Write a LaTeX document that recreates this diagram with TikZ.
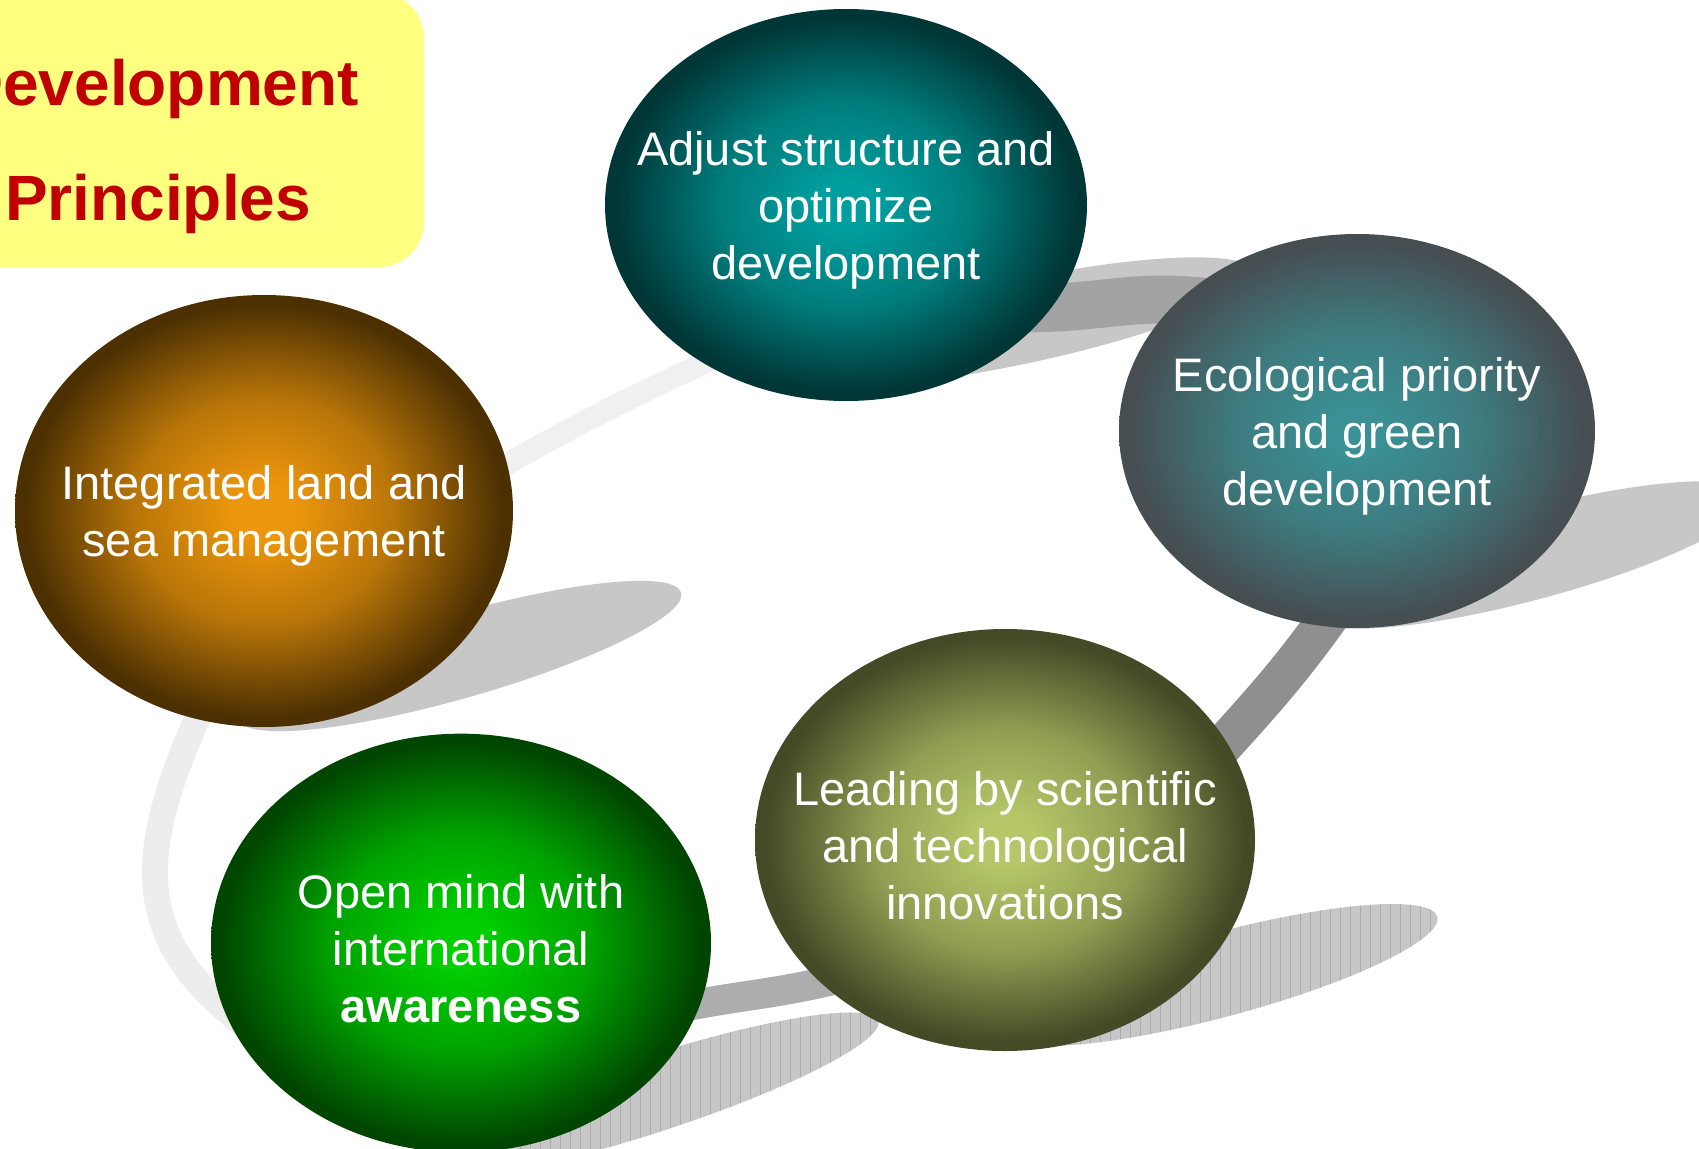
\documentclass[tikz,border=0pt]{standalone}
\usepackage{fontspec}
\setmainfont{Liberation Sans}
\usepackage{tikz}
\usetikzlibrary{shapes.geometric,backgrounds,patterns.meta}

\definecolor{tealin}{RGB}{0,158,158}
\definecolor{tealout}{RGB}{0,54,54}
\definecolor{slatein}{RGB}{58,144,148}
\definecolor{slateout}{RGB}{70,78,82}
\definecolor{amberin}{RGB}{236,150,12}
\definecolor{amberout}{RGB}{76,48,2}
\definecolor{olivein}{RGB}{182,198,104}
\definecolor{oliveout}{RGB}{68,74,38}
\definecolor{greenin}{RGB}{0,206,0}
\definecolor{greenout}{RGB}{0,70,0}
\definecolor{titlered}{RGB}{192,0,0}
\definecolor{panelyellow}{RGB}{255,255,128}

\newcommand{\glowshade}[3]{\pgfdeclareradialshading{#1}{\pgfpointorigin}{color(0bp)=(#2); color(3bp)=(#2); color(13bp)=(#2!68!#3); color(24bp)=(#3); color(50bp)=(#3)}}
\glowshade{tealglow}{tealin}{tealout}
\glowshade{slateglow}{slatein}{slateout}
\glowshade{amberglow}{amberin}{amberout}
\glowshade{oliveglow}{olivein}{oliveout}
\glowshade{greenglow}{greenin}{greenout}

\tikzset{
  bubble/.style={ellipse, inner sep=0pt, shade, shading=#1},
  bubbletext/.style={align=center, inner sep=0pt, yshift=-4pt, text=white, font=\fontsize{35.25}{42.75}\selectfont},
  shadowfill/.style={fill=black, fill opacity=0.22},
  shadowlines/.style={shadowfill, postaction={fill opacity=1, pattern={Lines[angle=90,distance=7.5pt,line width=0.5pt]}, pattern color=black!33}},
  ringpart/.style={draw=black, shorten <=-30pt, shorten >=-30pt}
}

\begin{document}
\begin{tikzpicture}[x=0.75pt,y=0.75pt,yscale=-1,xscale=1]
\useasboundingbox (0,0) rectangle (1699,1149);

% Title panel
\node [fill=panelyellow, rounded corners=33.75pt, minimum width=399pt, minimum height=205.5pt, inner sep=0pt] (panel) at (158,130) {};
% Text Node
\node [anchor=north, inner sep=0pt, align=center, text=titlered, font=\bfseries\fontsize{48}{86.25}\selectfont] (title) at (158,59) {Development\\Principles};

% Ellipse
\node [bubble=tealglow, minimum width=361.5pt, minimum height=294pt] (adjust) at (846,205) {};
% Ellipse
\node [bubble=slateglow, minimum width=357pt, minimum height=295.5pt] (eco) at (1357,431) {};
% Ellipse
\node [bubble=amberglow, minimum width=373.5pt, minimum height=324pt] (land) at (264,511) {};
% Ellipse
\node [bubble=oliveglow, minimum width=375pt, minimum height=316.5pt] (leading) at (1005,840) {};
% Ellipse
\node [bubble=greenglow, minimum width=375pt, minimum height=314pt] (open) at (461,943) {};

% Text Node
\node [bubbletext] (adjust-t) at (adjust) {Adjust structure and\\optimize\\development};
% Text Node
\node [bubbletext] (eco-t) at (eco) {Ecological priority\\and green\\development};
% Text Node
\node [bubbletext] (land-t) at (land) {Integrated land and\\sea management};
% Text Node
\node [bubbletext] (leading-t) at (leading) {Leading by scientific\\and technological\\innovations};
% Text Node
\node [bubbletext] (open-t) at (open) {Open mind with\\international\\\textbf{awareness}};

\begin{scope}[on background layer]
% Shadows
\path [shadowfill, rotate around={-12:(1020,322)}] (1020,322) ellipse [x radius=240, y radius=42];
\path [shadowfill, rotate around={-15:(1530,555)}] (1530,555) ellipse [x radius=230, y radius=45];
\path [shadowfill, rotate around={-16:(460,656)}] (460,656) ellipse [x radius=230, y radius=42];
\path [shadowlines, rotate around={-15:(1220,975)}] (1220,975) ellipse [x radius=225, y radius=42];
\path [shadowlines, rotate around={-18:(650,1095)}] (650,1095) ellipse [x radius=240, y radius=38];
% Ring
\draw [ringpart, line width=16.5pt, draw opacity=0.06] (land.11) to [out=-30, in=155] (adjust.228);
\draw [ringpart, line width=36pt, draw opacity=0.18] (adjust.-27) to [out=2, in=188] (eco.143);
\draw [ringpart, line width=30pt, draw opacity=0.44] (eco.-100) to [out=125, in=-48] (leading.24);
\draw [ringpart, line width=22.5pt, draw opacity=0.32] (leading.218) to [out=165, in=-12] (open.-14);
\draw [ringpart, line width=19.5pt, draw opacity=0.07] (open.196) to [out=-145, in=115, looseness=1.15] (land.252);
\end{scope}

\end{tikzpicture}
\end{document}
